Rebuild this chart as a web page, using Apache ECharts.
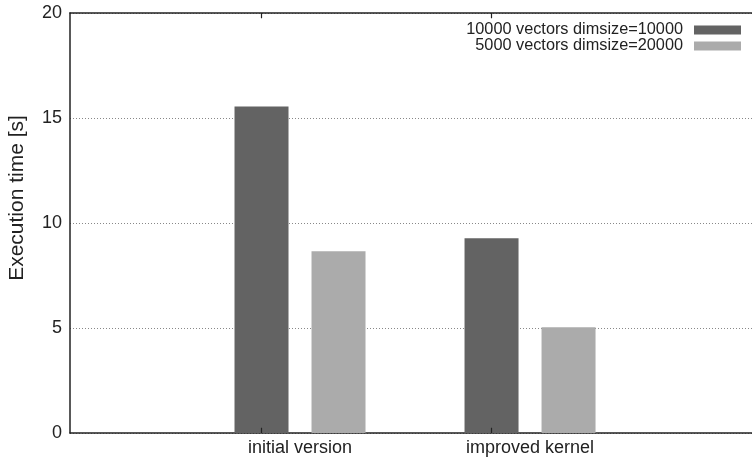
<!DOCTYPE html>
<html>
<head>
<meta charset="utf-8">
<script src="https://cdn.jsdelivr.net/npm/echarts@6/dist/echarts.min.js"></script>
<style>html,body{margin:0;padding:0;background:#fff}#c{width:752px;height:461px}</style>
</head>
<body>
<div id="c"></div>
<script>
const categories = ['initial version', 'improved kernel'];
const seriesNames = ['10000 vectors dimsize=10000', '5000 vectors dimsize=20000'];
const seriesA = [15.55, 9.27];
const seriesB = [8.65, 5.04];
const yTicks = [0, 5, 10, 15, 20];
const yTitle = 'Execution time [s]';

const FONT = "'Liberation Sans', Arial, Helvetica, sans-serif";
const chart = echarts.init(document.getElementById('c'), null, {renderer: 'canvas'});
const catIdx = categories.map((c, i) => i);
const yMin = yTicks[0], yMax = yTicks[yTicks.length - 1];
const tickLen = 0.25; // in y units (about 5px)
const tickLines = [];
catIdx.forEach((i) => {
  tickLines.push([{coord: [i, yMin]}, {coord: [i, yMin + tickLen]}]);
  tickLines.push([{coord: [i, yMax]}, {coord: [i, yMax - tickLen]}]);
});
function xAxisDef(pos, labels) {
  return {
    type: 'value', min: -1, max: 1.965, interval: 1, position: pos,
    axisLine: {show: true, onZero: false, lineStyle: {color: '#222', width: 1.5}},
    axisTick: {show: false},
    axisLabel: labels ? {customValues: catIdx, formatter: (v) => categories[Math.round(v)] || '',
      fontFamily: FONT, fontSize: 18, color: '#222', margin: 6} : {show: false},
    splitLine: {show: false}
  };
}
chart.setOption({
  animation: false,
  backgroundColor: '#fff',
  grid: {left: 70, right: 0, top: 13, height: 420, containLabel: false},
  legend: {
    orient: 'vertical', right: 6, top: 17, align: 'right',
    itemWidth: 47, itemHeight: 9, itemGap: 0,
    icon: 'rect',
    textStyle: {fontFamily: FONT, fontSize: 16.3, color: '#222', lineHeight: 16, padding: [0, 6, 0, 0]},
    data: seriesNames
  },
  graphic: [{
    type: 'text', x: 17, y: 198, rotation: Math.PI / 2,
    style: {text: yTitle, font: '21px ' + FONT, fill: '#222', align: 'center', verticalAlign: 'middle'}
  }],
  xAxis: [xAxisDef('bottom', true), xAxisDef('top', false)],
  yAxis: {
    type: 'value', min: yMin, max: yMax, interval: 5, position: 'left',
    axisLine: {show: true, onZero: false, lineStyle: {color: '#222', width: 1.5}},
    axisTick: {show: false},
    axisLabel: {fontFamily: FONT, fontSize: 18, color: '#222', margin: 8},
    splitLine: {show: true, lineStyle: {color: '#888', type: [1, 2], width: 1}}
  },
  series: [{
    name: seriesNames[0], type: 'bar', data: seriesA.map((v, i) => [i, v]), xAxisIndex: 0,
    barWidth: 54, barGap: '42.6%',
    itemStyle: {color: '#636363'},
    markLine: {
      silent: true, symbol: ['none', 'none'], animation: false,
      label: {show: false},
      lineStyle: {color: '#222', width: 1.2, type: 'solid'},
      emphasis: {disabled: true},
      data: tickLines
    }
  }, {
    name: seriesNames[1], type: 'bar', data: seriesB.map((v, i) => [i, v]), xAxisIndex: 0,
    barWidth: 54, barGap: '42.6%',
    itemStyle: {color: '#ababab'}
  }]
});
</script>
</body>
</html>
